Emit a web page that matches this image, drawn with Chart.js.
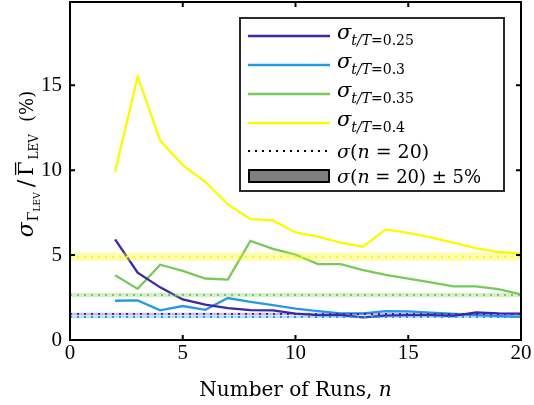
<!DOCTYPE html>
<html lang="en">
<head>
<meta charset="UTF-8">
<title>Run-count convergence of sigma</title>
<script src="https://cdn.jsdelivr.net/npm/chart.js"></script>
<style>
    body { margin: 0; background: #fff; }
    canvas { display: block; }
</style>
</head>
<body>
<canvas id="sigmaChart" width="534" height="405"></canvas>
<script>
// number of runs used for each estimate
const runs = [2, 3, 4, 5, 6, 7, 8, 9, 10, 11, 12, 13, 14, 15, 16, 17, 18, 19, 20];

// sigma of Gamma_LEV / mean Gamma_LEV (%) at each t/T
const sig025 = [5.92, 3.96, 3.10, 2.39, 2.08, 1.88, 1.76, 1.75, 1.55, 1.47, 1.47, 1.33, 1.43, 1.47, 1.47, 1.41, 1.63, 1.57, 1.55];
const sig030 = [2.31, 2.33, 1.75, 2.00, 1.78, 2.47, 2.25, 2.05, 1.85, 1.70, 1.57, 1.57, 1.70, 1.69, 1.61, 1.53, 1.47, 1.41, 1.37];
const sig035 = [3.81, 3.01, 4.43, 4.07, 3.62, 3.56, 5.83, 5.37, 5.03, 4.47, 4.47, 4.12, 3.84, 3.61, 3.39, 3.16, 3.16, 3.00, 2.69];
const sig040 = [9.90, 15.50, 11.74, 10.29, 9.31, 7.98, 7.12, 7.04, 6.33, 6.08, 5.73, 5.49, 6.51, 6.31, 6.04, 5.73, 5.41, 5.18, 5.10];

// reference value sigma(n = 20) for each series
const sigN20 = [1.53, 1.36, 2.65, 4.90];
const band = 0.05;

const seriesLabels = ['0.25', '0.3', '0.35', '0.4'];
const seriesData = [sig025, sig030, sig035, sig040];
const colors = ['#3d26a8', '#2499e8', '#79c95a', '#fafa00'];
const bandColors = ['rgba(61,38,168,0.3)', 'rgba(36,153,232,0.3)', 'rgba(121,201,90,0.3)', 'rgba(250,250,0,0.3)'];

const xTicks = [0, 5, 10, 15, 20];
const yTicks = [0, 5, 10, 15];

const SERIF = '"Liberation Serif", serif';
const TEXT = '"DejaVu Serif", serif';

const datasets = [];
seriesData.forEach((vals, i) => {
    datasets.push({
        data: runs.map((r, j) => ({ x: r, y: vals[j] })),
        borderColor: colors[i],
        borderWidth: 2.3,
        pointRadius: 0,
        fill: false,
        order: 3
    });
});
sigN20.forEach((s, i) => {
    // +-5% shaded band
    datasets.push({
        data: [{ x: 0, y: s * (1 + band) }, { x: 20, y: s * (1 + band) }],
        borderColor: 'transparent',
        borderWidth: 0,
        pointRadius: 0,
        backgroundColor: bandColors[i],
        fill: { value: s * (1 - band) },
        order: 2
    });
    // dotted sigma(n=20) line
    datasets.push({
        data: [{ x: 0, y: s }, { x: 20, y: s }],
        borderColor: colors[i],
        borderWidth: 2,
        borderDash: [2, 5],
        pointRadius: 0,
        fill: false,
        order: 1
    });
});

// draw a run of text pieces (sub/superscripts, italics, overbars)
function richWidth(ctx, parts) {
    let w = 0;
    parts.forEach(p => {
        ctx.font = (p.it ? 'italic ' : '') + p.size + 'px ' + TEXT;
        w += ctx.measureText(p.t).width + (p.gap || 0);
    });
    return w;
}
function drawRich(ctx, parts, x, y) {
    let cx = x;
    parts.forEach(p => {
        ctx.font = (p.it ? 'italic ' : '') + p.size + 'px ' + TEXT;
        const w = ctx.measureText(p.t).width;
        ctx.fillText(p.t, cx, y + (p.dy || 0));
        if (p.bar) {
            ctx.fillRect(cx + 1, y + (p.dy || 0) - p.size * 0.86, w - 2, 1.3);
        }
        cx += w + (p.gap || 0);
    });
}

const framePlugin = {
    id: 'frame',
    afterDraw(chart) {
        const ctx = chart.ctx;
        const a = chart.chartArea;
        const xs = chart.scales.x, ys = chart.scales.y;
        ctx.save();
        ctx.strokeStyle = '#000';
        ctx.lineWidth = 2;
        ctx.strokeRect(a.left, a.top, a.right - a.left, a.bottom - a.top);
        ctx.beginPath();
        xTicks.forEach(v => {
            const px = xs.getPixelForValue(v);
            ctx.moveTo(px, a.bottom); ctx.lineTo(px, a.bottom - 5);
            ctx.moveTo(px, a.top); ctx.lineTo(px, a.top + 5);
        });
        yTicks.forEach(v => {
            const py = ys.getPixelForValue(v);
            ctx.moveTo(a.left, py); ctx.lineTo(a.left + 5, py);
            ctx.moveTo(a.right, py); ctx.lineTo(a.right - 5, py);
        });
        ctx.stroke();

        ctx.fillStyle = '#000';
        ctx.textBaseline = 'alphabetic';

        // x title
        const xt = [{ t: 'Number of Runs, ', size: 20 }, { t: 'n', size: 20, it: true }];
        drawRich(ctx, xt, (a.left + a.right) / 2 - richWidth(ctx, xt) / 2, 396);

        // y title, rotated
        const yt = [
            { t: 'σ', size: 22, it: true, gap: 1 },
            { t: 'Γ', size: 14, dy: 5 },
            { t: 'LEV', size: 9, dy: 7, gap: 5 },
            { t: '/', size: 22, gap: 4 },
            { t: 'Γ', size: 21, bar: true, gap: 2 },
            { t: 'LEV', size: 12, dy: 5, gap: 12 },
            { t: '(%)', size: 18 }
        ];
        ctx.save();
        ctx.translate(33, 164);
        ctx.rotate(-Math.PI / 2);
        drawRich(ctx, yt, -richWidth(ctx, yt) / 2, 0);
        ctx.restore();

        // legend
        const lx = 240, ly = 18, lw = 264, lh = 173;
        ctx.fillStyle = '#fff';
        ctx.fillRect(lx, ly, lw, lh);
        ctx.strokeStyle = '#2a2a2a';
        ctx.lineWidth = 2;
        ctx.strokeRect(lx, ly, lw, lh);
        const rows = [36, 65, 94, 123, 151, 176];
        ctx.fillStyle = '#000';
        seriesLabels.forEach((lab, i) => {
            ctx.strokeStyle = colors[i];
            ctx.lineWidth = 2.3;
            ctx.beginPath();
            ctx.moveTo(248, rows[i]); ctx.lineTo(330, rows[i]);
            ctx.stroke();
            drawRich(ctx, [
                { t: 'σ', size: 21, it: true },
                { t: 't/T', size: 14, it: true, dy: 6 },
                { t: '=' + lab, size: 14, dy: 6 }
            ], 337, rows[i] + 3);
        });
        ctx.strokeStyle = '#000';
        ctx.lineWidth = 2;
        ctx.setLineDash([2, 5]);
        ctx.beginPath();
        ctx.moveTo(248, rows[4]); ctx.lineTo(330, rows[4]);
        ctx.stroke();
        ctx.setLineDash([]);
        drawRich(ctx, [
            { t: 'σ', size: 19, it: true }, { t: '(', size: 19 },
            { t: 'n', size: 19, it: true }, { t: ' = 20)', size: 19 }
        ], 337, rows[4] + 7);
        ctx.fillStyle = '#808080';
        ctx.fillRect(249, rows[5] - 6, 80, 12);
        ctx.strokeRect(249, rows[5] - 6, 80, 12);
        ctx.fillStyle = '#000';
        drawRich(ctx, [
            { t: 'σ', size: 19, it: true }, { t: '(', size: 19 },
            { t: 'n', size: 19, it: true }, { t: ' = 20) ± 5%', size: 18 }
        ], 337, rows[5] + 7);
        ctx.restore();
    }
};

new Chart(document.getElementById('sigmaChart'), {
    type: 'line',
    data: { datasets: datasets },
    options: {
        responsive: false,
        animation: false,
        devicePixelRatio: 1,
        layout: { padding: { top: 2, right: 13, left: 0, bottom: 0 } },
        plugins: { legend: { display: false }, tooltip: { enabled: false } },
        scales: {
            x: {
                type: 'linear',
                min: 0, max: 20,
                afterBuildTicks: s => { s.ticks = xTicks.map(v => ({ value: v })); },
                afterFit: s => { s.height = 65; s.paddingLeft = 0; s.paddingRight = 0; },
                grid: { display: false, drawTicks: false },
                border: { display: false },
                ticks: { color: '#000', padding: 1, maxRotation: 0, font: { family: SERIF, size: 21 } }
            },
            y: {
                min: 0, max: 19.9,
                afterBuildTicks: s => { s.ticks = yTicks.map(v => ({ value: v })); },
                afterFit: s => { s.width = 70; s.paddingTop = 0; s.paddingBottom = 0; },
                grid: { display: false, drawTicks: false },
                border: { display: false },
                ticks: { color: '#000', padding: 8, font: { family: SERIF, size: 21 } }
            }
        }
    },
    plugins: [framePlugin]
});
</script>
</body>
</html>
